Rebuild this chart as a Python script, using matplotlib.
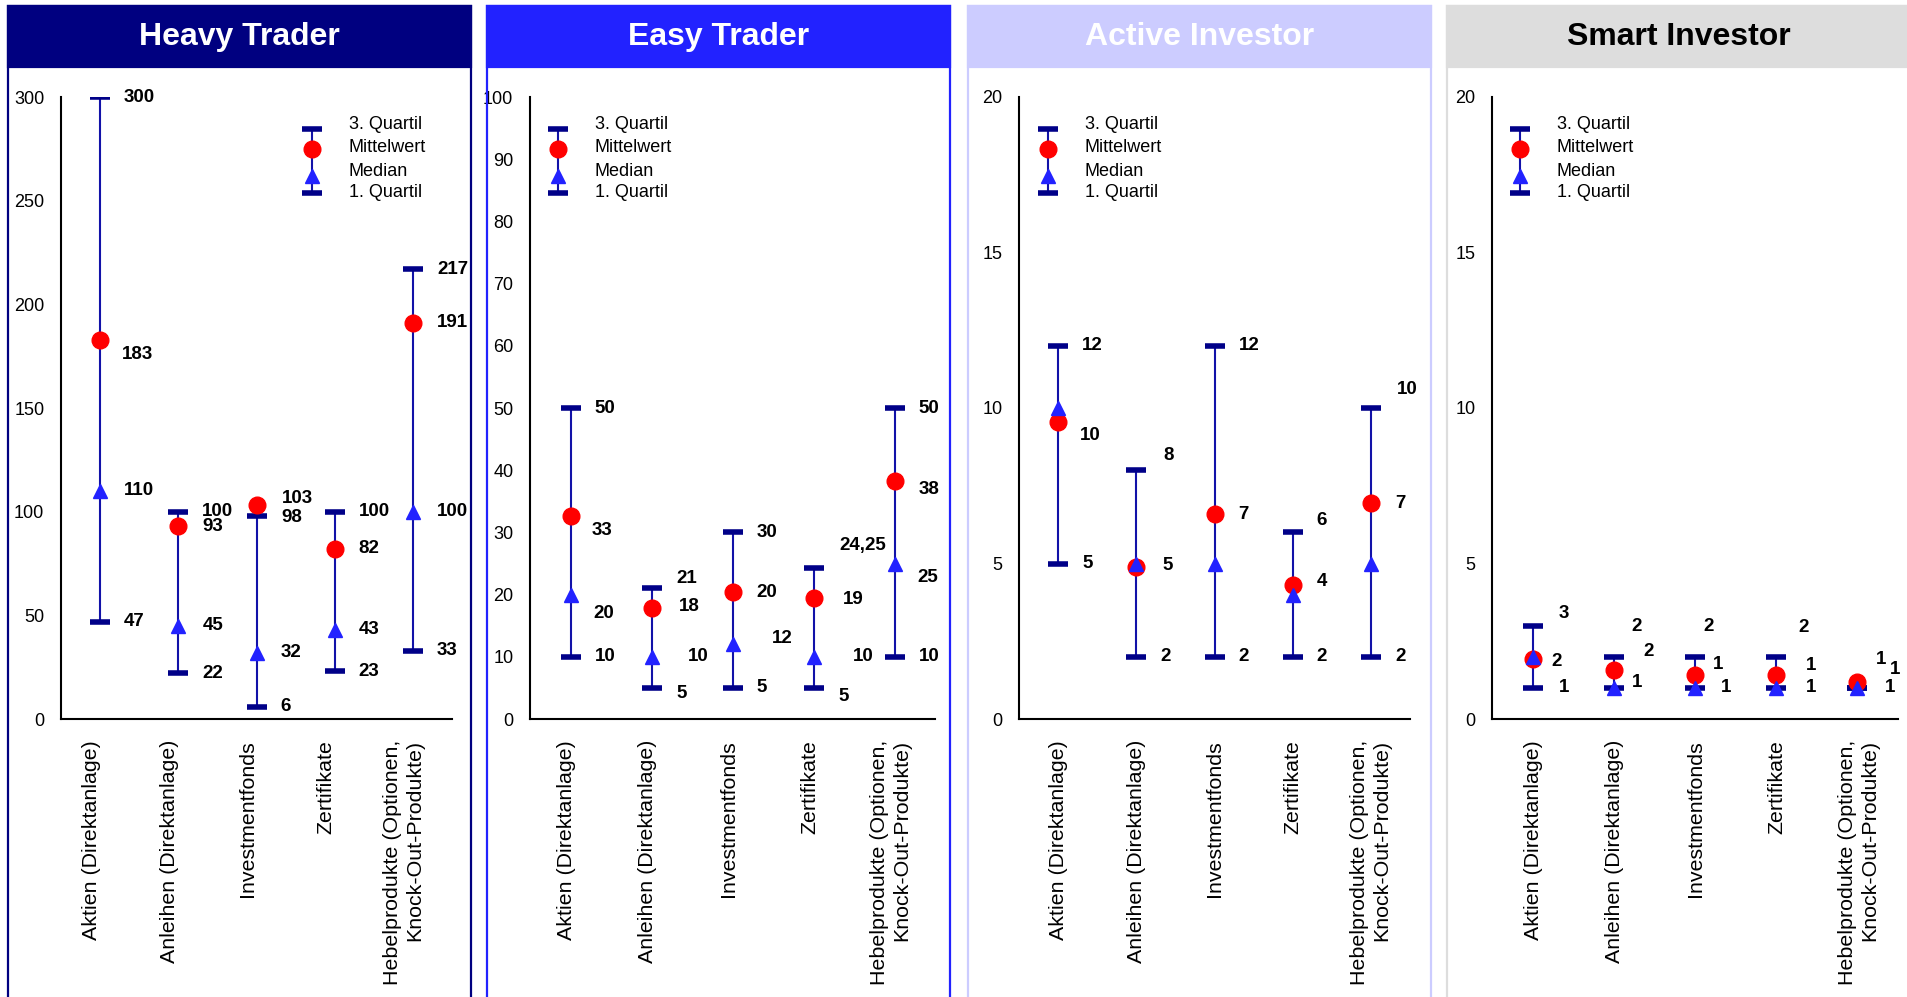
import matplotlib
matplotlib.use("Agg")
import matplotlib.pyplot as plt
from matplotlib.patches import Rectangle
from matplotlib.lines import Line2D

plt.rcParams["font.family"] = ["Liberation Sans", "DejaVu Sans"]

W, H, DPI = 1908, 997, 100

# Daten
CATEGORIES = [
    "Aktien (Direktanlage)",
    "Anleihen (Direktanlage)",
    "Investmentfonds",
    "Zertifikate",
    "Hebelprodukte (Optionen,\nKnock-Out-Produkte)",
]
PANELS = ["Heavy Trader", "Easy Trader", "Active Investor", "Smart Investor"]

heavy_q3 = [300, 100, 98, 100, 217]
heavy_mean = [183, 93, 103, 82, 191]
heavy_median = [110, 45, 32, 43, 100]
heavy_q1 = [47, 22, 6, 23, 33]

easy_q3 = [50, 21, 30, 24.25, 50]
easy_mean = [32.6, 17.8, 20.4, 19.4, 38.3]
easy_median = [20, 10, 12, 10, 25]
easy_q1 = [10, 5, 5, 5, 10]

active_q3 = [12, 8, 12, 6, 10]
active_mean = [9.55, 4.9, 6.58, 4.3, 6.94]
active_median = [10, 5, 5, 4, 5]
active_q1 = [5, 2, 2, 2, 2]

smart_q3 = [3, 2, 2, 2, 1]
smart_mean = [1.94, 1.59, 1.40, 1.42, 1.18]
smart_median = [2, 1, 1, 1, 1]
smart_q1 = [1, 1, 1, 1, 1]

DATA = [
    (heavy_q3, heavy_mean, heavy_median, heavy_q1),
    (easy_q3, easy_mean, easy_median, easy_q1),
    (active_q3, active_mean, active_median, active_q1),
    (smart_q3, smart_mean, smart_median, smart_q1),
]
YMAX = [300, 100, 20, 20]
YSTEP = [50, 10, 5, 5]
LABELLED = [
    ("q3", "mean", "median", "q1"),
    ("q3", "mean", "median", "q1"),
    ("q3", "mean", "q1"),
    ("q3", "mean", "q1"),
]

# Layout (Pixel)
HEAD_COL = ["#000080", "#2222FF", "#CCCCFF", "#DDDDDD"]
TITLE_COL = ["white", "white", "white", "black"]
PANEL_LEFT = [8, 487, 968, 1447]
PANEL_W = 463
AX_LEFT = [61, 530, 1019, 1492]
AX_W = [391, 405, 391, 406]
AX_TOP, AX_BOT = 97, 719
LEG_X = [312, 558, 1048, 1520]
CAT_SHIFT = [-9, -4, 0, 1]

CAP_COL = "#000088"
LINE_COL = "#1212A8"
TRI_COL = "#2222FF"
DOT_COL = "#FF0000"

# Label-Verschiebungen (dx, dy) in Pixel
NUDGE = {
    (0, 0, "mean"): (22, -15), (0, 2, "mean"): (25, 7), (0, 2, "q3"): (25, -2),
    (1, 0, "mean"): (21, -14), (1, 0, "median"): (23, -19),
    (1, 1, "q3"): (25, 10), (1, 1, "mean"): (27, 2), (1, 1, "median"): (36, 0), (1, 1, "q1"): (25, -6),
    (1, 2, "median"): (39, 6),
    (1, 3, "q3"): (26, 23), (1, 3, "mean"): (29, -1), (1, 3, "median"): (39, 0), (1, 3, "q1"): (25, -9),
    (1, 4, "mean"): (24, -9), (1, 4, "median"): (23, -14),
    (2, 0, "mean"): (22, -14),
    (2, 1, "q3"): (27, 15), (2, 1, "mean"): (26, 1),
    (2, 3, "q3"): (24, 12), (2, 3, "mean"): (24, 4),
    (2, 4, "q3"): (26, 19),
    (3, 0, "q3"): (26, 12), (3, 0, "mean"): (19, -3), (3, 0, "q1"): (26, 0),
    (3, 1, "q3"): (18, 30), (3, 1, "mean"): (30, 18), (3, 1, "q1"): (18, 5),
    (3, 2, "q3"): (8, 30), (3, 2, "mean"): (18, 11), (3, 2, "q1"): (26, 0),
    (3, 3, "q3"): (22, 29), (3, 3, "mean"): (30, 9), (3, 3, "q1"): (30, 0),
    (3, 4, "q3"): (18, 28), (3, 4, "mean"): (32, 13), (3, 4, "q1"): (27, 0),
}


def fx(x):
    return x / W


def fy(y):
    return 1 - y / H


def fmt(v, stat):
    if stat == "mean":
        return f"{round(v)}"
    if float(v).is_integer():
        return f"{int(v)}"
    return f"{v:.2f}".replace(".", ",")


fig = plt.figure(figsize=(W / DPI, H / DPI), dpi=DPI)

for p, name in enumerate(PANELS):
    # Rahmen und Kopfzeile
    left = PANEL_LEFT[p]
    fig.add_artist(Rectangle((fx(left), fy(1010)), PANEL_W / W, (1010 - 6) / H,
                             transform=fig.transFigure, fill=False,
                             edgecolor=HEAD_COL[p], linewidth=1.6))
    fig.add_artist(Rectangle((fx(left), fy(67)), PANEL_W / W, 61 / H,
                             transform=fig.transFigure, facecolor=HEAD_COL[p],
                             edgecolor=HEAD_COL[p], linewidth=1.6))
    fig.text(fx(left + PANEL_W / 2), fy(37), name, ha="center", va="center",
             fontsize=23, fontweight="bold", color=TITLE_COL[p])

    ax = fig.add_axes([fx(AX_LEFT[p]), fy(AX_BOT), AX_W[p] / W, (AX_BOT - AX_TOP) / H])
    q3, mean, median, q1 = DATA[p]
    x = list(range(len(CATEGORIES)))

    ax.vlines(x, q1, q3, color=LINE_COL, linewidth=1.5, zorder=2)
    ax.plot(x, q3, ls="none", marker="_", ms=15, mew=4, color=CAP_COL, zorder=3)
    ax.plot(x, q1, ls="none", marker="_", ms=15, mew=4, color=CAP_COL, zorder=3)
    ax.plot(x, mean, ls="none", marker="o", ms=12, color=DOT_COL, zorder=4)
    ax.plot(x, median, ls="none", marker="^", ms=10.5, color=TRI_COL, zorder=5)

    stats = {"q3": q3, "mean": mean, "median": median, "q1": q1}
    for stat in LABELLED[p]:
        for i, v in enumerate(stats[stat]):
            dx, dy = NUDGE.get((p, i, stat), (24, 0))
            ax.annotate(fmt(v, stat), (i, v), xytext=(dx, dy), textcoords="offset pixels",
                        ha="left", va="center", fontsize=13.5, fontweight="bold",
                        annotation_clip=False, zorder=6)

    # Kategorien (gedreht)
    for i, cat in enumerate(CATEGORIES):
        ax.annotate(cat, (i, 0), xycoords=("data", "axes fraction"),
                    xytext=(CAT_SHIFT[p], -21), textcoords="offset pixels",
                    rotation=90, ha="center", va="top",
                    multialignment="right", fontsize=15.4, annotation_clip=False)

    ax.set_xlim(-0.5, 4.5)
    ax.set_ylim(0, YMAX[p])
    ax.set_yticks(range(0, YMAX[p] + 1, YSTEP[p]))
    ax.set_xticks([])
    ax.tick_params(axis="y", length=0, pad=12, labelsize=13)
    for s in ["top", "right"]:
        ax.spines[s].set_visible(False)
    for s in ["left", "bottom"]:
        ax.spines[s].set_linewidth(1.5)
        ax.spines[s].set_color("black")
    ax.patch.set_alpha(0)

    # Legende
    lx = LEG_X[p]
    fig.add_artist(Line2D([fx(lx), fx(lx)], [fy(129), fy(193)], transform=fig.transFigure,
                          color=LINE_COL, linewidth=1.5))
    for cy in (129, 193):
        fig.add_artist(Line2D([fx(lx)], [fy(cy)], transform=fig.transFigure, ls="none",
                              marker="_", ms=15, mew=4, color=CAP_COL))
    fig.add_artist(Line2D([fx(lx)], [fy(149)], transform=fig.transFigure, ls="none",
                          marker="o", ms=12, color=DOT_COL))
    fig.add_artist(Line2D([fx(lx)], [fy(176)], transform=fig.transFigure, ls="none",
                          marker="^", ms=10.5, color=TRI_COL))
    for txt, ty in zip(["3. Quartil", "Mittelwert", "Median", "1. Quartil"],
                       [124, 148, 171.5, 192.5]):
        fig.text(fx(lx + 37), fy(ty), txt, ha="left", va="center", fontsize=13)

fig.savefig("out.png", dpi=DPI, facecolor="white")
